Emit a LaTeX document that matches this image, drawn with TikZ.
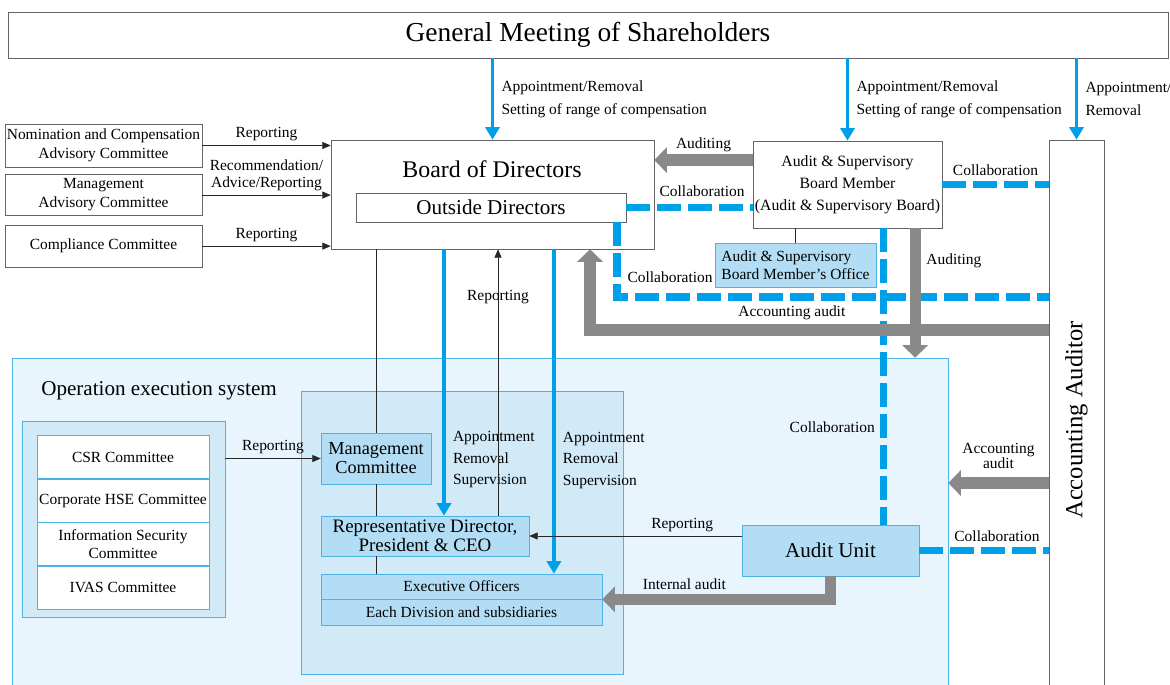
\documentclass[tikz,border=0pt]{standalone}
\usepackage{fontspec}
\setmainfont{Liberation Serif}
\usetikzlibrary{arrows.meta, positioning}

\definecolor{apblue}{RGB}{0,160,233}
\definecolor{audgray}{RGB}{137,137,137}
\definecolor{opfill}{RGB}{232,245,253}
\definecolor{opline}{RGB}{77,178,228}
\definecolor{execfill}{RGB}{210,234,248}
\definecolor{unitfill}{RGB}{178,221,245}
\definecolor{boxline}{RGB}{100,100,100}

\newdimen\upx
\upx=0.025cm

\begin{document}
\begin{tikzpicture}[
        x=0.025cm, y=-0.025cm,
        box/.style={rectangle, draw=boxline, fill=white, align=center, inner sep=0pt, font=\fontsize{11}{13.5}\selectfont},
        unit/.style={box, draw=opline, fill=unitfill},
        area/.style={rectangle, draw=opline, inner sep=0pt},
        lbl/.style={inner sep=1pt, align=left, font=\fontsize{11}{12}\selectfont},
        appoint/.style={draw=apblue, line width=2.8pt, -{Triangle[length=9pt, width=10pt]}},
        audit/.style={draw=audgray, line width=8pt, -{Triangle[length=9pt, width=18pt]}},
        collab/.style={draw=apblue, line width=5pt, dash pattern=on 17pt off 5pt},
        report/.style={draw=black!85, line width=0.6pt, -{Triangle[length=6pt, width=5pt]}},
        tie/.style={draw=black!85, line width=0.6pt}
    ]
    \useasboundingbox (0,0) rectangle (1170,684);
    \clip (0,0) rectangle (1170,684);

    % Operation execution system
    \node (opx) [area, fill=opfill, minimum width=936\upx, minimum height=340\upx] at (480,528) {};
    \node (optitle) [anchor=west, inner sep=0pt, font=\fontsize{15}{17}\selectfont] at (41,391) {Operation execution system};
    \node (execarea) [area, fill=execfill, minimum width=322\upx, minimum height=283\upx] at (462,532.5) {};
    \node (grp) [area, fill=execfill, minimum width=203\upx, minimum height=196\upx] at (123.5,519) {};

    % Top level
    \node (gms) [box, minimum width=1160\upx, minimum height=46\upx, font=\fontsize{19.5}{22}\selectfont] at (588,35) {General Meeting of Shareholders};
    \node (bod) [box, minimum width=323\upx, minimum height=109\upx] at (492.5,194.5) {};
    \node (bodtitle) [inner sep=0pt, font=\fontsize{17}{19}\selectfont] at (492,169) {Board of Directors};
    \node (od) [box, minimum width=270\upx, minimum height=29\upx, font=\fontsize{15}{17}\selectfont] at (491,207.5) {Outside Directors};

    \node (ncac) [box, minimum width=197\upx, minimum height=43\upx] at (103.5,145.5) {Nomination and Compensation\\Advisory Committee};
    \node (mac) [box, minimum width=197\upx, minimum height=41\upx, below=0.175cm of ncac] {Management\\Advisory Committee};
    \node (cc) [box, minimum width=197\upx, minimum height=42\upx, below=0.225cm of mac] {Compliance Committee};

    \node (asb) [box, minimum width=189\upx, minimum height=87\upx, font=\fontsize{11.2}{15.5}\selectfont] at (847.5,184.5) {Audit \& Supervisory\\Board Member\\(Audit \& Supervisory Board)};
    \node (office) [unit, minimum width=161\upx, minimum height=44\upx, align=left, font=\fontsize{11}{13}\selectfont] at (795.5,265) {Audit \& Supervisory\\Board Member’s Office};
    \node (aa) [box, minimum width=55\upx, minimum height=560\upx, label={[rotate=90, font=\fontsize{17.5}{20}\selectfont]center:Accounting Auditor}] at (1076.5,420) {};

    % Execution side
    \node (csr) [box, draw=opline, minimum width=172\upx, minimum height=43\upx] at (123,457) {CSR Committee};
    \node (hse) [box, draw=opline, minimum width=172\upx, minimum height=43\upx, below=0pt of csr] {Corporate HSE Committee};
    \node (isc) [box, draw=opline, minimum width=172\upx, minimum height=43\upx, below=0pt of hse] {Information Security\\Committee};
    \node (ivas) [box, draw=opline, minimum width=172\upx, minimum height=43\upx, below=0pt of isc] {IVAS Committee};

    \node (mgmt) [unit, minimum width=110\upx, minimum height=51\upx, font=\fontsize{13}{13.5}\selectfont] at (376,458.5) {Management\\Committee};
    \node (rep) [unit, minimum width=208\upx, minimum height=40\upx, font=\fontsize{13.5}{13.5}\selectfont] at (425,536) {Representative Director,\\President \& CEO};
    \node (exec) [unit, minimum width=281\upx, minimum height=25\upx] at (461.5,586.5) {Executive Officers};
    \node (div) [unit, minimum width=281\upx, minimum height=26\upx, below=0pt of exec] {Each Division and subsidiaries};
    \node (au) [unit, minimum width=177\upx, minimum height=51\upx, font=\fontsize{15}{17}\selectfont] at (830.5,550.5) {Audit Unit};

    % Collaboration
    \coordinate (odturn) at (617,297);
    \draw [collab] (odturn |- od.south) -- (odturn) node[lbl, above right=7pt and 4pt] {Collaboration} -- (odturn -| aa.west);
    \draw [collab] (od.east) -- (od.east -| asb.west) node[lbl, pos=0.6, above=4pt] {Collaboration};
    \draw [collab] (asb.east) -- (asb.east -| aa.west) node[lbl, midway, above=3pt] {Collaboration};
    \draw [collab] ([xshift=0.91cm]asb.south) -- ([xshift=0.91cm]asb.south |- au.north) node[lbl, pos=0.67, left=3pt] {Collaboration};
    \draw [collab] (au.east) -- (au.east -| aa.west) node[lbl, pos=0.6, above=3pt] {Collaboration};

    % Auditing
    \draw [audit] ([yshift=0.61cm]asb.west) -- ([yshift=0.61cm]asb.west -| bod.east) node[lbl, midway, above=1pt] {Auditing};
    \draw [audit] ([xshift=1.69cm]asb.south) -- ([xshift=1.69cm]asb.south |- opx.north) node[lbl, pos=0.25, right=3pt] {Auditing};
    \coordinate (accturn) at (590,330);
    \draw [audit] (accturn -| aa.west) -- (accturn) node[lbl, pos=0.56, above=2pt] {Accounting audit} -- (accturn |- bod.south);
    \draw [audit] ([yshift=-1.575cm]aa.west) -- ([yshift=-1.575cm]aa.west -| opx.east) node[lbl, midway, above=5pt, align=center, font=\fontsize{11}{11}\selectfont] {Accounting\\audit};
    \draw [audit] (au.south) |- (exec.south east) node[lbl, pos=0.82, above=2pt] {Internal audit};

    % Appointment
    \draw [appoint] (gms.south -| bod.north) -- (bod.north) node[lbl, midway, right=4pt, font=\fontsize{11}{16.4}\selectfont] {Appointment/Removal\\Setting of range of compensation};
    \draw [appoint] (gms.south -| asb.north) -- (asb.north) node[lbl, midway, right=4pt, font=\fontsize{11}{16.4}\selectfont] {Appointment/Removal\\Setting of range of compensation};
    \draw [appoint] (gms.south -| aa.north) -- (aa.north) node[lbl, midway, right=4pt, font=\fontsize{11}{16.4}\selectfont] {Appointment/\\Removal};
    \draw [appoint] ([xshift=0.475cm]rep.north |- bod.south) -- ([xshift=0.475cm]rep.north) node[lbl, pos=0.79, right=4pt, font=\fontsize{11}{15.3}\selectfont] {Appointment\\Removal\\Supervision};
    \draw [appoint] ([xshift=2.31cm]exec.north |- bod.south) -- ([xshift=2.31cm]exec.north) node[lbl, pos=0.65, right=4pt, font=\fontsize{11}{15.3}\selectfont] {Appointment\\Removal\\Supervision};

    % Reporting
    \draw [report] (ncac.east) -- (ncac.east -| bod.west) node[lbl, midway, above=2pt] {Reporting};
    \draw [report] (mac.east) -- (mac.east -| bod.west) node[lbl, midway, above=2pt, align=center, font=\fontsize{11}{11.5}\selectfont] {Recommendation/\\Advice/Reporting};
    \draw [report] (cc.east) -- (cc.east -| bod.west) node[lbl, midway, above=2pt] {Reporting};
    \draw [report] ([xshift=1.825cm]rep.north) -- ([xshift=1.825cm]rep.north |- bod.south) node[lbl, pos=0.82] {Reporting};
    \draw [report] (grp.east |- mgmt.west) -- (mgmt.west) node[lbl, midway, above=2pt] {Reporting};
    \draw [report] (au.west |- rep.east) -- (rep.east) node[lbl, pos=0.28, above=2pt] {Reporting};

    % Lines
    \draw [tie] (mgmt.north |- bod.south) -- (mgmt.north);
    \draw [tie] (mgmt.south) -- (mgmt.south |- rep.north);
    \draw [tie] (mgmt.south |- rep.south) -- (mgmt.south |- exec.north);
    \draw [tie] (office.north) -- (office.north |- asb.south);

\end{tikzpicture}
\end{document}
